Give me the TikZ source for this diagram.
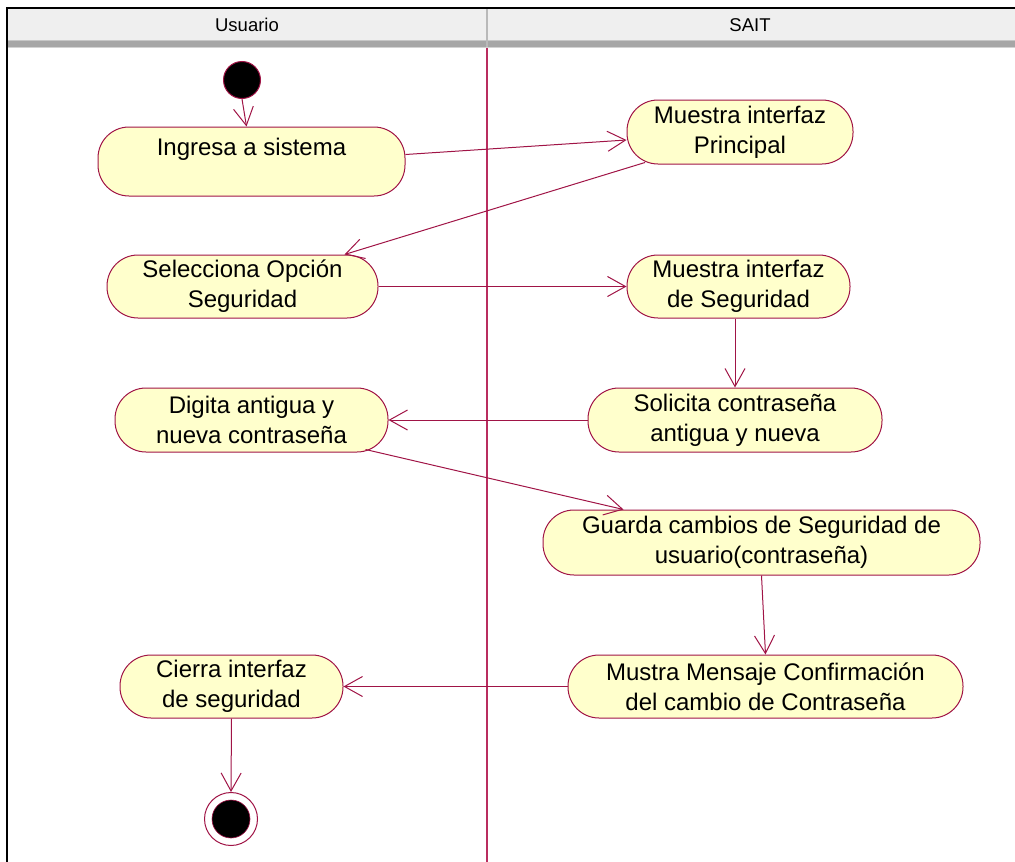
\documentclass[tikz,border=0pt]{standalone}
\usepackage{fontspec}
\setmainfont{Liberation Sans}
\usetikzlibrary{arrows.meta}
\definecolor{ln}{RGB}{160,20,70}
\definecolor{lane}{RGB}{185,45,95}
\definecolor{fillc}{RGB}{255,255,204}
\definecolor{hdr}{RGB}{239,239,239}
\begin{document}
\begin{tikzpicture}[x=1pt,y=-1pt,
  act/.style={draw=ln, fill=fillc, line width=1pt, rounded corners=31pt,
    align=center, font=\fontsize{24}{30}\selectfont, inner sep=0pt},
  arr/.style={draw=ln, line width=1pt,
    -{Straight Barb[length=18pt,width=20pt,line width=1pt]}},
  hdrtext/.style={font=\fontsize{18.5}{20}\selectfont, inner sep=0pt}]
\useasboundingbox (0,0) rectangle (1015,862);
% header
\fill[hdr] (7,8) rectangle (1015,40);
\fill[gray!70] (7,40) rectangle (1015,47);
\draw[gray!45, line width=1pt] (7,40.5) -- (1015,40.5);
\draw[gray!35, line width=1pt] (7,47.5) -- (1015,47.5);
\draw[gray!55, line width=1.5pt] (487,8) -- (487,47);
\draw[lane, line width=1.6pt] (487,48) -- (487,862);
\draw[black, line width=2pt] (7,862) -- (7,8) -- (1015,8);
\node[hdrtext] (hu) at (247,25) {Usuario};
\node[hdrtext] (hs) at (750,25) {SAIT};
% start / end
\node[circle, fill=black, draw=ln, line width=1pt, minimum size=37pt, inner sep=0pt] (start) at (242,80) {};
\node[circle, fill=white, draw=ln, line width=1pt, minimum size=53pt, inner sep=0pt] (end) at (231,819) {};
\node[circle, fill=black, draw=ln, line width=0.6pt, minimum size=38pt, inner sep=0pt] (endin) at (231,819) {};
% activities
\node[act, minimum width=307pt, minimum height=69pt] (ing) at (251.5,161.5) {Ingresa a sistema\\\mbox{}};
\node[act, minimum width=226pt, minimum height=64pt] (mp) at (740,132) {Muestra interfaz\\Principal};
\node[act, minimum width=271pt, minimum height=63pt] (sel) at (242.5,286.5) {Selecciona Opción\\Seguridad};
\node[act, minimum width=223pt, minimum height=63pt] (ms) at (738.5,286.5) {Muestra interfaz\\de Seguridad};
\node[act, minimum width=294pt, minimum height=64pt] (sol) at (735,420) {Solicita contraseña\\antigua y nueva};
\node[act, minimum width=273pt, minimum height=64pt] (dig) at (251.5,420) {Digita antigua y\\nueva contraseña};
\node[act, minimum width=437pt, minimum height=65pt] (gua) at (761.5,542.5) {Guarda cambios de Seguridad de\\usuario(contraseña)};
\node[act, minimum width=395pt, minimum height=63pt] (mus) at (765.5,686.5) {Mustra Mensaje Confirmación\\del cambio de Contraseña};
\node[act, minimum width=223pt, minimum height=63pt] (cie) at (231.5,686.5) {Cierra interfaz\\de seguridad};
% connectors
\draw[arr] (start.south) -- ([xshift=-5pt]ing.north);
\draw[arr] ([yshift=7pt]ing.east) -- ([yshift=-8pt]mp.west);
\draw[arr] ([xshift=-95pt,yshift=2pt]mp.south) -- ([xshift=102pt]sel.north);
\draw[arr] (sel.east) -- (ms.west);
\draw[arr] (sol.north |- ms.south) -- (sol.north);
\draw[arr] (sol.west) -- (dig.east);
\draw[arr] ([xshift=114pt,yshift=3pt]dig.south) -- ([xshift=-138pt]gua.north);
\draw[arr] (gua.south) -- (mus.north);
\draw[arr] (mus.west) -- (cie.east);
\draw[arr] (cie.south) -- (end.north);
\end{tikzpicture}
\end{document}
